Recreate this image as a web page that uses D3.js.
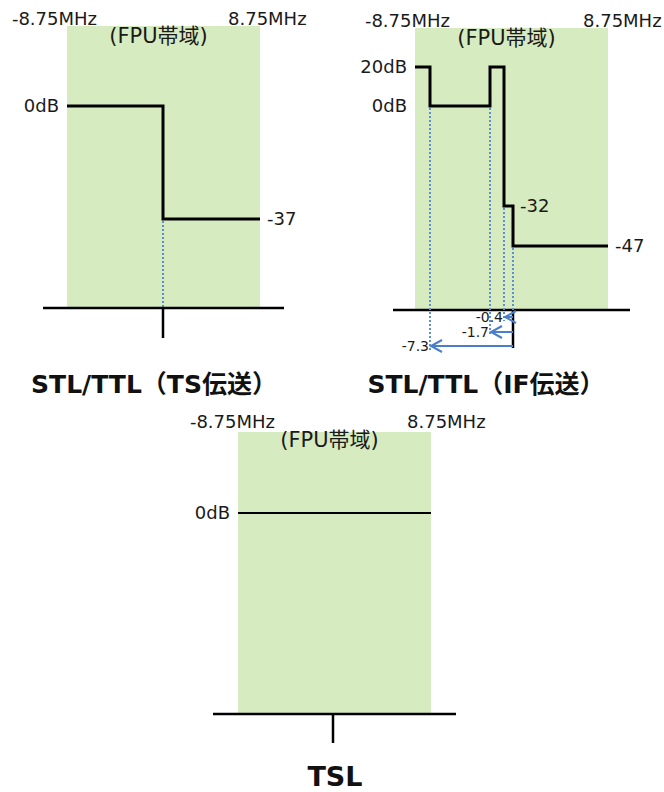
<!DOCTYPE html>
<html>
<head>
<meta charset="utf-8">
<script src="https://cdn.jsdelivr.net/npm/d3@7"></script>
<style>
  body { margin: 0; background: #fff; }
  svg { display: block; }
  text { font-family: "DejaVu Sans", "Noto Sans CJK JP", sans-serif; fill: #1a1a1a; }
  .title { font-weight: bold; fill: #111; }
</style>
</head>
<body>
<div id="chart"></div>
<script>
// chart values
const bandEdges = [-8.75, 8.75];
const bandLabels = ["-8.75MHz", "8.75MHz"];
const bandName = "(FPU帯域)";
const titles = ["STL/TTL（TS伝送）", "STL/TTL（IF伝送）", "TSL"];

// mask steps: frequency break points (MHz) and level after each break (dB)
const tsFreq = [-8.75, 0, 8.75];
const tsLevel = [0, -37];
const ifFreq = [-8.75, -7.3, -1.7, -0.4, 0, 8.75];
const ifLevel = [20, 0, 20, -32, -47];
const tslFreq = [-8.75, 8.75];
const tslLevel = [0];

// labelled levels on each panel
const tsLeftTicks = [0];
const tsRightTicks = [-37];
const ifLeftTicks = [20, 0];
const ifRightTicks = [-32, -47];
const tslLeftTicks = [0];

// offsets marked with arrows under the IF panel
const ifMarkers = [-0.4, -1.7, -7.3];

const width = 664,
  height = 792;

const svg = d3
  .select("#chart")
  .append("svg")
  .attr("width", width)
  .attr("height", height);

const green = "#d7ebc0",
  blue = "#4a7ec8",
  dotBlue = "#5b8fd6";

// layout of the three panels (schematic, so scales are piecewise)
const panels = [
  {
    freq: tsFreq, level: tsLevel, left: tsLeftTicks, right: tsRightTicks,
    x: d3.scaleLinear().domain([-8.75, 0, 8.75]).range([67, 163, 260]),
    y: d3.scaleLinear().domain([0, -37]).range([106, 219]),
    top: 26, bottom: 308, tickEnd: 338, axisPad: 24,
    bandLabelY: 25, bandNameY: 43, bandOff: [30, 32],
    title: titles[0], titleX: 154, titleY: 393, titleSize: 25,
    dropAt: [0]
  },
  {
    freq: ifFreq, level: ifLevel, left: ifLeftTicks, right: ifRightTicks,
    x: d3.scaleLinear().domain([-8.75, -7.3, -1.7, -0.4, 0, 8.75]).range([415, 430, 490, 504, 513, 608]),
    y: d3.scaleLinear().domain([20, 0, -32, -47]).range([67, 106, 206, 246]),
    top: 28, bottom: 310, tickEnd: 348, axisPad: 22,
    bandLabelY: 27, bandNameY: 45, bandOff: [35, 25],
    title: titles[1], titleX: 486, titleY: 393, titleSize: 25,
    dropAt: []
  },
  {
    freq: tslFreq, level: tslLevel, left: tslLeftTicks, right: [],
    x: d3.scaleLinear().domain([-8.75, 0, 8.75]).range([238, 333, 431]),
    y: d3.scaleLinear().domain([0, -37]).range([513, 627]),
    top: 432, bottom: 714, tickEnd: 743, axisPad: 25,
    bandLabelY: 428, bandNameY: 447, bandOff: [37, 24],
    title: titles[2], titleX: 335, titleY: 786, titleSize: 27,
    dropAt: [], thin: true
  }
];

panels.forEach((p) => {
  const g = svg.append("g");
  const x0 = p.x(bandEdges[0]),
    x1 = p.x(bandEdges[1]);

  // FPU band
  g.append("rect")
    .attr("x", x0)
    .attr("y", p.top)
    .attr("width", x1 - x0)
    .attr("height", p.bottom - p.top)
    .attr("fill", green);

  g.append("text")
    .attr("x", (x0 + x1) / 2 - 5)
    .attr("y", p.bandNameY)
    .attr("text-anchor", "middle")
    .attr("font-size", 21)
    .text(bandName);

  g.append("text")
    .attr("x", x0 + p.bandOff[0])
    .attr("y", p.bandLabelY)
    .attr("text-anchor", "end")
    .attr("font-size", 18)
    .text(bandLabels[0]);

  g.append("text")
    .attr("x", x1 - p.bandOff[1])
    .attr("y", p.bandLabelY)
    .attr("text-anchor", "start")
    .attr("font-size", 18)
    .text(bandLabels[1]);

  // dotted drops from mask corners
  p.dropAt.forEach((f) => {
    const i = p.freq.indexOf(f);
    g.append("line")
      .attr("x1", p.x(f))
      .attr("x2", p.x(f))
      .attr("y1", p.y(p.level[i]) + 2)
      .attr("y2", p.bottom)
      .attr("stroke", dotBlue)
      .attr("stroke-width", 2)
      .attr("stroke-dasharray", "2,2");
  });

  // mask
  const pts = p.freq.map((f, i) => [f, p.level[Math.min(i, p.level.length - 1)]]);
  g.append("path")
    .datum(pts)
    .attr("fill", "none")
    .attr("stroke", "#000")
    .attr("stroke-width", p.thin ? 2 : 3)
    .attr(
      "d",
      d3.line()
        .x((d) => p.x(d[0]))
        .y((d) => p.y(d[1]))
        .curve(d3.curveStepAfter)
    );

  // level labels
  g.selectAll(".lt")
    .data(p.left)
    .join("text")
    .attr("x", x0 - 8)
    .attr("y", (d) => p.y(d))
    .attr("dy", "0.35em")
    .attr("text-anchor", "end")
    .attr("font-size", 18)
    .text((d) => d + "dB");

  g.selectAll(".rt")
    .data(p.right)
    .join("text")
    .attr("x", (d) => {
      const i = p.level.indexOf(d);
      return (i === p.level.length - 1 ? x1 : p.x(p.freq[i + 1])) + 7;
    })
    .attr("y", (d) => p.y(d))
    .attr("dy", "0.35em")
    .attr("font-size", 18)
    .text((d) => d);

  // frequency axis and centre tick
  g.append("line")
    .attr("x1", x0 - p.axisPad)
    .attr("x2", x1 + p.axisPad)
    .attr("y1", p.bottom)
    .attr("y2", p.bottom)
    .attr("stroke", "#000")
    .attr("stroke-width", 2.5);

  g.append("line")
    .attr("x1", p.x(0))
    .attr("x2", p.x(0))
    .attr("y1", p.bottom)
    .attr("y2", p.tickEnd)
    .attr("stroke", "#000")
    .attr("stroke-width", 2.5);

  svg.append("text")
    .attr("class", "title")
    .attr("x", p.titleX)
    .attr("y", p.titleY)
    .attr("text-anchor", "middle")
    .attr("font-size", p.titleSize)
    .text(p.title);
});

// IF panel: dotted drops and offset arrows
const pIF = panels[1];
const arrowY = d3.scaleOrdinal().domain(ifMarkers).range([317, 332, 346]);
const dropTop = (f) => {
  const i = ifFreq.indexOf(f);
  return pIF.y(Math.min(ifLevel[i - 1], ifLevel[i]));
};

ifMarkers.forEach((f) => {
  svg.append("line")
    .attr("x1", pIF.x(f))
    .attr("x2", pIF.x(f))
    .attr("y1", dropTop(f) + 2)
    .attr("y2", arrowY(f) + 4)
    .attr("stroke", dotBlue)
    .attr("stroke-width", 2)
    .attr("stroke-dasharray", "2,2");
});

svg.append("line")
  .attr("x1", pIF.x(0))
  .attr("x2", pIF.x(0))
  .attr("y1", pIF.y(-47) + 2)
  .attr("y2", pIF.bottom)
  .attr("stroke", dotBlue)
  .attr("stroke-width", 2)
  .attr("stroke-dasharray", "2,2");

ifMarkers.forEach((f) => {
  const xa = pIF.x(f),
    xb = pIF.x(0),
    ya = arrowY(f);
  svg.append("line")
    .attr("x1", xa + 1)
    .attr("x2", xb)
    .attr("y1", ya)
    .attr("y2", ya)
    .attr("stroke", blue)
    .attr("stroke-width", 2);
  svg.append("path")
    .attr("d", `M${xa + 12},${ya - 6}L${xa + 1},${ya}L${xa + 12},${ya + 6}`)
    .attr("fill", "none")
    .attr("stroke", blue)
    .attr("stroke-width", 2);
  svg.append("text")
    .attr("x", xa - 1)
    .attr("y", ya)
    .attr("dy", "0.35em")
    .attr("text-anchor", "end")
    .attr("font-size", 14)
    .text(f);
});
</script>
</body>
</html>
